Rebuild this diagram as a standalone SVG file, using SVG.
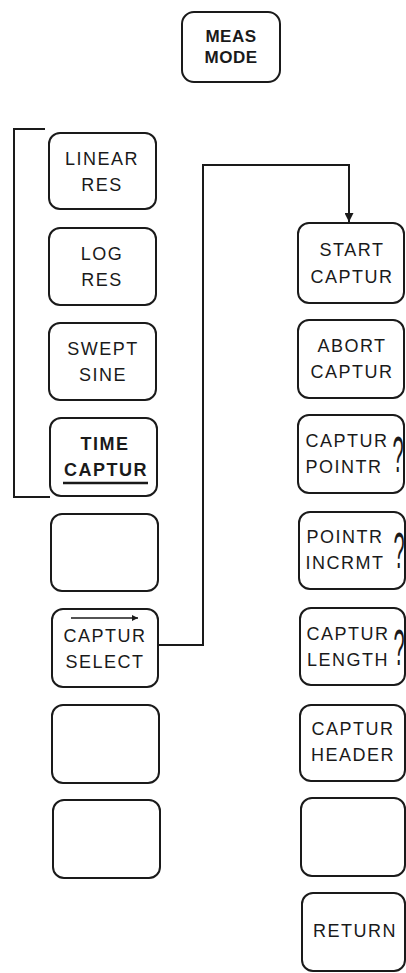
<svg xmlns="http://www.w3.org/2000/svg" width="406" height="973" viewBox="0 0 406 973">
<style>
.k{fill:#fff;stroke:#1a1a1a;stroke-width:2}
.t{font-family:"Liberation Sans",Arial,sans-serif;font-size:18px;fill:#1a1a1a;text-anchor:middle;letter-spacing:1.5px}
.b{font-weight:bold}
.m{letter-spacing:0.5px;font-size:17px}
.q{font-family:"Liberation Sans",Arial,sans-serif;font-size:50px;fill:#1a1a1a;text-anchor:middle}
.c{fill:none;stroke:#1a1a1a;stroke-width:2}
</style>
<defs>
<marker id="ah" viewBox="0 0 10 10" refX="10" refY="5" markerWidth="6" markerHeight="6" markerUnits="userSpaceOnUse" orient="auto">
<path d="M0,0 L10,5 L0,10 z" fill="#1a1a1a"/>
</marker>
<marker id="ab" viewBox="0 0 10 10" refX="10" refY="5" markerWidth="10" markerHeight="9" markerUnits="userSpaceOnUse" orient="auto">
<path d="M0,0 L10,5 L0,10 z" fill="#1a1a1a"/>
</marker>
</defs>
<rect width="406" height="973" fill="#fff"/>
<g id="meas-mode"><rect class="k" x="182" y="12" width="98" height="70" rx="12"/><text class="t b m" x="231" y="42">MEAS</text><text class="t b m" x="231" y="63">MODE</text></g>
<g id="bracket"><path class="c" d="M45,129 H14 V497 H50"/></g>
<g id="linear-res"><rect class="k" x="49" y="133" width="107" height="76" rx="11"/><text class="t" x="102" y="165">LINEAR</text><text class="t" x="102" y="191">RES</text></g>
<g id="log-res"><rect class="k" x="49" y="228" width="107" height="77" rx="11"/><text class="t" x="102" y="260">LOG</text><text class="t" x="102" y="286">RES</text></g>
<g id="swept-sine"><rect class="k" x="49" y="323" width="107" height="77" rx="11"/><text class="t" x="103" y="355">SWEPT</text><text class="t" x="103" y="381">SINE</text></g>
<g id="time-captur"><rect class="k" x="50" y="418" width="107" height="78" rx="11"/><text class="t b" x="105" y="450">TIME</text><text class="t b" x="106" y="476">CAPTUR</text><line x1="63" y1="483" x2="148" y2="483" stroke="#1a1a1a" stroke-width="2.5"/></g>
<g id="blank-l1"><rect class="k" x="51" y="514" width="107" height="77" rx="11"/></g>
<g id="captur-select"><rect class="k" x="52" y="609" width="106" height="78" rx="11"/><line x1="71" y1="618" x2="138" y2="618" stroke="#1a1a1a" stroke-width="1.5" marker-end="url(#ah)"/><text class="t" x="105" y="642">CAPTUR</text><text class="t" x="105" y="668">SELECT</text></g>
<g id="blank-l2"><rect class="k" x="52" y="705" width="107" height="78" rx="11"/></g>
<g id="blank-l3"><rect class="k" x="53" y="800" width="107" height="78" rx="11"/></g>
<g id="start-captur"><rect class="k" x="298" y="223" width="106" height="80" rx="11"/><text class="t" x="352" y="256">START</text><text class="t" x="352" y="283">CAPTUR</text></g>
<g id="abort-captur"><rect class="k" x="298" y="320" width="106" height="78" rx="11"/><text class="t" x="352" y="352">ABORT</text><text class="t" x="352" y="378">CAPTUR</text></g>
<g id="captur-pointr"><rect class="k" x="298" y="415" width="106" height="78" rx="11"/><text class="t" x="347" y="447">CAPTUR</text><text class="t" x="344" y="473">POINTR</text><text class="q" transform="translate(398,472) scale(0.4,1)">?</text></g>
<g id="pointr-incrmt"><rect class="k" x="299" y="512" width="106" height="77" rx="11"/><text class="t" x="345" y="543">POINTR</text><text class="t" x="345" y="569">INCRMT</text><text class="q" transform="translate(399,568) scale(0.4,1)">?</text></g>
<g id="captur-length"><rect class="k" x="300" y="608" width="105" height="77" rx="11"/><text class="t" x="348" y="640">CAPTUR</text><text class="t" x="348" y="666">LENGTH</text><text class="q" transform="translate(399,665) scale(0.4,1)">?</text></g>
<g id="captur-header"><rect class="k" x="300" y="705" width="105" height="76" rx="11"/><text class="t" x="353" y="735">CAPTUR</text><text class="t" x="353" y="761">HEADER</text></g>
<g id="blank-r"><rect class="k" x="301" y="798" width="104" height="78" rx="11"/></g>
<g id="return"><rect class="k" x="302" y="893" width="103" height="78" rx="11"/><text class="t" x="355" y="937">RETURN</text></g>
<g id="connectors"><path class="c" d="M158,645 H203 V165 H349 V222" marker-end="url(#ab)"/></g>
</svg>
